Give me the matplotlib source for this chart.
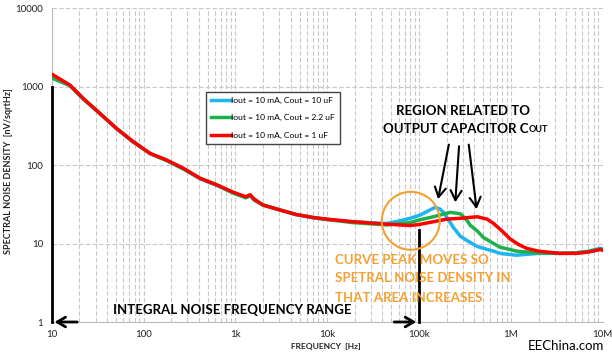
import numpy as np
import matplotlib as mpl
mpl.use('Agg')
import matplotlib.pyplot as plt
from matplotlib.patches import Ellipse

plt.rcParams['font.family'] = ['Lato', 'DejaVu Sans']

# noise curve (frequency in Hz, density in nV/sqrtHz)
f_blue = [10, 15.8, 22, 33.6, 51, 77, 118, 179, 272, 413, 630, 955, 1300, 1450, 1600,
          2000, 3000, 4600, 7000, 9900, 19000, 44000, 62000, 80000, 102000, 125000,
          150000, 170000, 185000, 210000, 237000, 280000, 330000, 430000, 500000,
          650000, 760000, 1150000, 1500000, 2000000, 3400000, 5000000, 7000000,
          9400000, 10000000]
v_blue = [1300, 1030, 700, 450, 290, 197, 140, 114, 89, 67, 55, 44, 38.5, 41, 36,
          31, 27, 23.3, 21.3, 20.3, 19, 18, 19.5, 21, 23, 26,
          29, 27.5, 25, 20, 16, 12.5, 11, 9.2, 8.7,
          8, 7.5, 7.1, 7.3, 7.5, 7.5, 7.6, 8,
          8.7, 8.5]

f_green = [10, 15.8, 22, 33.6, 51, 77, 118, 179, 272, 413, 630, 955, 1300, 1450, 1600,
           2000, 3000, 4600, 7000, 9900, 19000, 44000, 62000, 80000, 100000, 144000,
           218000, 282000, 330000, 363000, 430000, 500000, 650000, 760000, 980000,
           1150000, 1500000, 2000000, 3400000, 5000000, 7000000, 9400000, 10000000]
v_green = [1300, 1040, 705, 454, 292, 199, 141, 115, 90, 68, 56, 44, 38.5, 41, 36,
           31, 27, 23.5, 21.5, 20.3, 18.5, 17.3, 18, 18.5, 20, 22,
           25, 24, 20, 17, 14.5, 12, 10, 9, 8.4,
           8, 7.8, 7.6, 7.5, 7.6, 7.9, 8.5, 8.3]

f_red = [10, 15.8, 22, 33.6, 51, 77, 118, 179, 272, 413, 630, 955, 1300, 1450, 1600,
         2000, 3000, 4600, 7000, 9900, 19000, 44000, 80000, 100000, 144000, 200000,
         282000, 430000, 550000, 650000, 800000, 980000, 1200000, 1480000, 2000000,
         3400000, 5200000, 7000000, 9400000, 10000000]
v_red = [1450, 1050, 710, 456, 293, 200, 141, 116, 91, 68, 56, 45, 39.5, 42, 37,
         31, 27, 23.5, 21.5, 20.5, 19, 17.7, 17, 17.5, 19, 20.5,
         21, 22, 20.5, 18, 14.5, 11.5, 9.8, 8.7, 8,
         7.5, 7.5, 7.8, 8.4, 8.2]

labels = ['Iout = 10 mA, Cout = 10 uF', 'Iout = 10 mA, Cout = 2.2 uF', 'Iout = 10 mA, Cout = 1 uF']
colors = ['#1FB4EE', '#1DB14B', '#FF0000']

x_ticks = [10, 100, 1e3, 1e4, 1e5, 1e6, 1e7]
x_ticklabels = ['10', '100', '1k', '10k', '100k', '1M', '10M']
y_ticks = [1, 10, 100, 1000, 10000]
y_ticklabels = ['1', '10', '100', '1000', '10000']

W, H = 612, 355
fig = plt.figure(figsize=(W / 100, H / 100), dpi=100)
ax = fig.add_axes([51.7 / W, 1 - 322 / H, 551 / W, 313.7 / H])
ax.set_xscale('log')
ax.set_yscale('log')
ax.set_xlim(10, 1e7)
ax.set_ylim(1, 10000)

for fx, vy, c, lab in zip([f_blue, f_green, f_red], [v_blue, v_green, v_red], colors, labels):
    ax.plot(fx, vy, color=c, lw=2.5, label=lab, zorder=3)

ax.grid(True, which='major', axis='both', color='#C8C8C8', ls=(0, (4, 2)), lw=0.8)
ax.grid(True, which='minor', axis='x', color='#C8C8C8', ls=(0, (4, 2)), lw=0.8)
ax.set_xticks(x_ticks)
ax.set_xticklabels(x_ticklabels)
ax.set_yticks(y_ticks)
ax.set_yticklabels(y_ticklabels)
ax.yaxis.set_minor_locator(mpl.ticker.NullLocator())
ax.tick_params(which='both', length=0, labelsize=7, colors='#222222')
ax.tick_params(axis='x', pad=6)
ax.tick_params(axis='y', pad=6)
for s in ['top', 'right']:
    ax.spines[s].set_visible(False)
for s in ['left', 'bottom']:
    ax.spines[s].set_color('#BBBBBB')
    ax.spines[s].set_linewidth(0.8)

fig.text(326 / W, 1 - 347 / H, 'FREQUENCY  [Hz]', ha='center', va='center',
         fontsize=6, fontweight='bold', color='#222222')
fig.text(8.5 / W, 1 - 171 / H, 'SPECTRAL NOISE DENSITY  [nV/sqrtHz]', ha='center', va='center',
         rotation=90, fontsize=6.5, fontweight='bold', color='#222222')

leg = ax.legend(loc='upper left', bbox_to_anchor=(0.28, 0.733), borderaxespad=0,
                fontsize=6.1, handlelength=2.3, handletextpad=0.1, labelspacing=1.2,
                fancybox=False, framealpha=1, edgecolor='#444444', borderpad=0.6)
leg.get_frame().set_linewidth(1.0)

# integral noise range markers
ax.plot([10, 10], [1, 1000], color='black', lw=2, clip_on=False, zorder=4)
ax.plot([1e5, 1e5], [1, 15], color='black', lw=2, clip_on=False, zorder=4)
arr = dict(arrowstyle='->,head_length=0.6,head_width=0.35', color='black', lw=2)
ax.annotate('', xy=(10, 1), xytext=(20.3, 1), arrowprops=arr, annotation_clip=False)
ax.annotate('', xy=(1e5, 1), xytext=(5e4, 1), arrowprops=arr, annotation_clip=False)
ax.text(920, 1.42, 'INTEGRAL NOISE FREQUENCY RANGE', ha='center', va='center',
        fontsize=9.5, fontweight='bold', color='black')

# region related to Cout
ax.text(0.746, 1 - (110.7 - 8.3) / 313.7, 'REGION RELATED TO', transform=ax.transAxes,
        ha='center', va='center', fontsize=9.5, fontweight='bold', color='black')
t2 = ax.text(0.733, 1 - (129.3 - 8.3) / 313.7, 'OUTPUT CAPACITOR C', transform=ax.transAxes,
             ha='center', va='center', fontsize=9.5, fontweight='bold', color='black')
fig.canvas.draw()
bb = t2.get_window_extent().transformed(ax.transAxes.inverted())
ax.text(bb.x1, bb.y0 + 0.004, 'OUT', transform=ax.transAxes, ha='left', va='bottom',
        fontsize=6.5, fontweight='bold', color='black')

arr2 = dict(arrowstyle='->,head_length=0.7,head_width=0.4', color='black', lw=1.5)
ax.annotate('', xy=(1.59e5, 34), xytext=(2.14e5, 198), arrowprops=arr2)
ax.annotate('', xy=(2.47e5, 31), xytext=(2.74e5, 189), arrowprops=arr2)
ax.annotate('', xy=(4.27e5, 25.4), xytext=(3.45e5, 198), arrowprops=arr2)

orange = '#F5A033'
ax.add_patch(Ellipse(((410.8 - 51.7) / 551, (322 - 220.8) / 313.7), 58 / 551, 58 / 313.7,
                     transform=ax.transAxes, fill=False, edgecolor=orange, lw=1.5, zorder=5))
ax.text((335 - 51.7) / 551, (322 - 253.5) / 313.7,
        'CURVE PEAK MOVES SO\nSPETRAL NOISE DENSITY IN\nTHAT AREA INCREASES',
        transform=ax.transAxes, ha='left', va='top', fontsize=9.5, fontweight='bold',
        color=orange, linespacing=1.7, zorder=6)

fig.text(604 / W, 1 - 346.5 / H, 'EEChina.com', ha='right', va='center', fontsize=9.5, color='black')

fig.savefig('out.png', dpi=100)
